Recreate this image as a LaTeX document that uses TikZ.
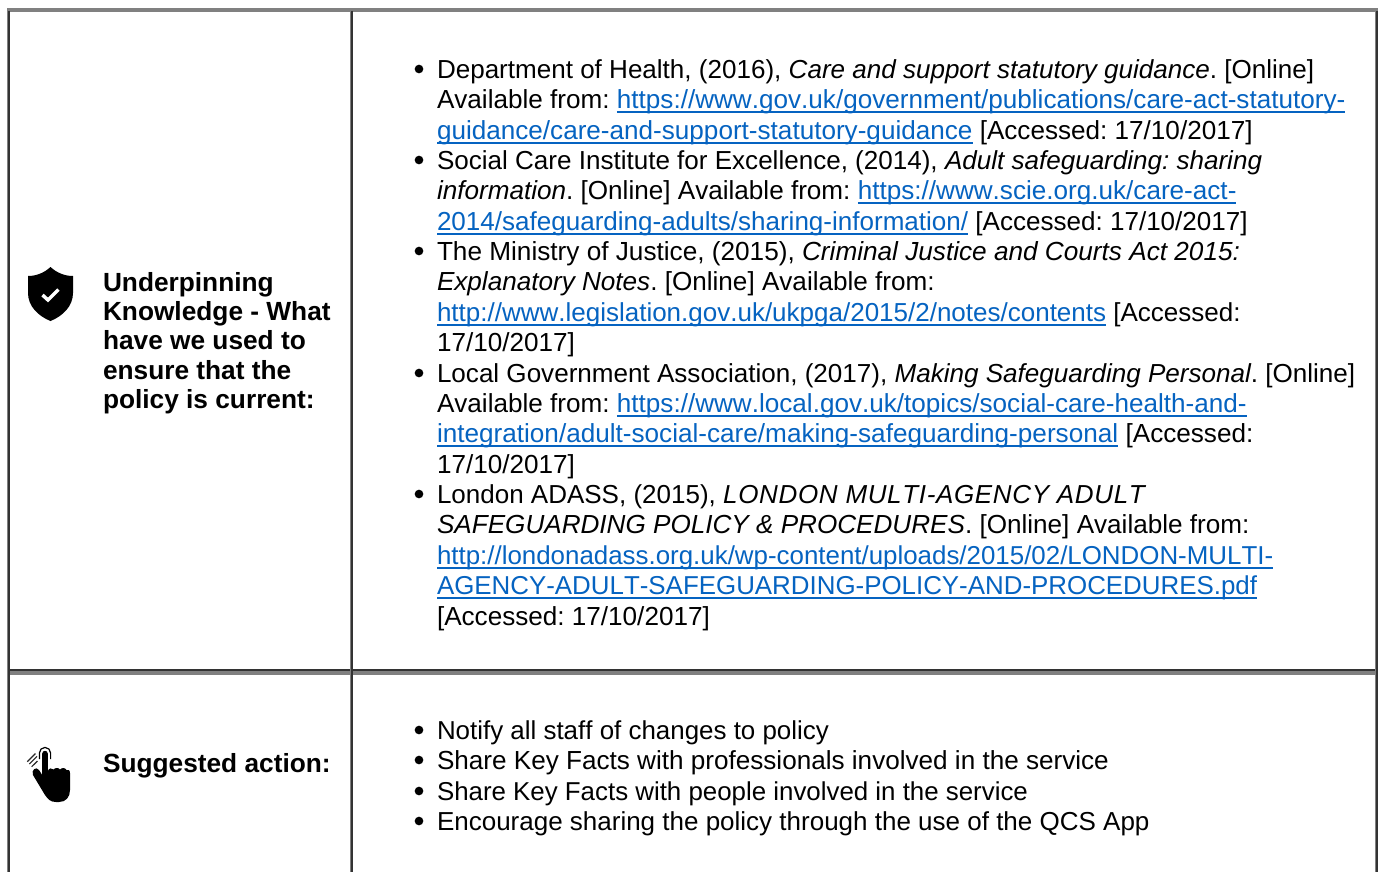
\documentclass[tikz,border=0pt]{standalone}
\usepackage{fontspec}
\setmainfont[Kerning=Off]{Liberation Sans}
\frenchspacing
\definecolor{linkc}{HTML}{0563C1}
\definecolor{gridg}{HTML}{808080}
\definecolor{gridd}{HTML}{333333}
\newcommand\lnk[1]{\textcolor{linkc}{\setbox0\hbox{#1}\rlap{\rule[-3.4pt]{\wd0}{1.3pt}}\box0}}
\tikzset{
 txt/.style={anchor=base west,inner sep=0pt,outer sep=0pt,font=\fontsize{19.58pt}{22pt}\selectfont},
 fs/.style={font=\fontsize{#1pt}{22pt}\selectfont},
 hd/.style={txt,font=\fontsize{19.7pt}{22pt}\selectfont\bfseries},
 bul/.style={circle,fill=black,inner sep=0pt,minimum size=6.5pt},
 gh/.style={line width=3pt,draw=gridg},
 gv/.style={line width=1.6pt,draw=gridg},
 gd/.style={line width=1.5pt,draw=gridd},
}
\begin{document}
\begin{tikzpicture}[x=0.75pt,y=-0.75pt]
\useasboundingbox (0,0) rectangle (1378,872);
\fill[white] (0,0) rectangle (1378,872);
% grid
\draw[gh] (7,9.5) -- (1378,9.5);
\draw[gh] (7,672.5) -- (1378,672.5);
\draw[gd] (7,670) -- (1376,670);
\foreach \xx in {8,351,1376}{
 \draw[gv] (\xx,8) -- (\xx,872);
 \draw[gd] (\xx+0.8,11) -- (\xx+0.8,872);
}
% shield
\fill[black] (50.5,267) .. controls (44,273) and (36,276) .. (28,276)
 -- (28,293) .. controls (28,306) and (38,316) .. (50.5,321)
 .. controls (63,316) and (73,306) .. (73,293) -- (73,276)
 .. controls (65,276) and (57,273) .. (50.5,267) -- cycle;
\draw[white,line width=2.6pt] (42.5,295) -- (48,300) -- (58.5,289.5);
% hand
\draw[black,line width=0.9pt] (39.4,759) -- (39.4,753) arc[start angle=180,end angle=360,x radius=5.6,y radius=5.6] -- (50.6,759);
\draw[black!85,line width=0.85pt] (27.3,761.7) -- (35.5,753.5) (29.3,764) -- (37,756.3) (31.7,766.7) -- (37.5,761);
\fill[black] (42.2,753.5) .. controls (42.2,750) and (47.8,750) .. (47.8,753.5)
 -- (47.8,771) .. controls (49,768) and (52,767.5) .. (53.5,769.5)
 .. controls (55,767.5) and (59,767.5) .. (60,769.5)
 .. controls (61.5,767.5) and (65.5,767.5) .. (66.5,770)
 .. controls (68,769) and (70,770) .. (70,773)
 -- (70,790) .. controls (70,797) and (66,802) .. (59,802)
 -- (56,802) .. controls (50,802) and (48,799) .. (45,795)
 -- (33,775) .. controls (31,770) and (36,766) .. (39,770)
 -- (42.2,775) -- cycle;
% left headers
\node[hd] (h1) at (103,291) {Underpinning};
\node[hd] (h2) at (103,320) {Knowledge - What};
\node[hd] (h3) at (103,349) {have we used to};
\node[hd] (h4) at (103,379) {ensure that the};
\node[hd] (h5) at (103,408) {policy is current:};
\node[hd] (h6) at (103,772) {Suggested action:};
% bullets
\foreach \n/\yy in {b1/69,b2/160,b3/251,b4/373,b5/494,b6/730,b7/760,b8/791,b9/821}{
 \node[bul] (\n) at (419,\yy) {};
}
% reference text
\node[txt,fs=19.53] (l1) at (437,78) {Department of Health, (2016), \textit{Care and support statutory guidance}. [Online]};
\node[txt] (l2) at (437,108) {Available from: \lnk{https://www.gov.uk/government/publications/care-act-statutory-}};
\node[txt] (l3) at (437,139) {\lnk{guidance/care-and-support-statutory-guidance} [Accessed: 17/10/2017]};
\node[txt,fs=19.53] (l4) at (437,169) {Social Care Institute for Excellence, (2014), \textit{Adult safeguarding: sharing}};
\node[txt] (l5) at (437,199) {\textit{information}. [Online] Available from: \lnk{https://www.scie.org.uk/care-act-}};
\node[txt,fs=19.53] (l6) at (437,230) {\lnk{2014/safeguarding-adults/sharing-information/} [Accessed: 17/10/2017]};
\node[txt,fs=19.63] (l7) at (437,260) {The Ministry of Justice, (2015), \textit{Criminal Justice and Courts Act 2015:}};
\node[txt] (l8) at (437,290) {\textit{Explanatory Notes}. [Online] Available from:};
\node[txt,fs=19.5] (l9) at (437,321) {\lnk{http://www.legislation.gov.uk/ukpga/2015/2/notes/contents} [Accessed:};
\node[txt] (l10) at (437,351) {17/10/2017]};
\node[txt,fs=19.54] (l11) at (437,382) {Local Government Association, (2017), \textit{Making Safeguarding Personal}. [Online]};
\node[txt] (l12) at (437,412) {Available from: \lnk{https://www.local.gov.uk/topics/social-care-health-and-}};
\node[txt,fs=19.6] (l13) at (437,442) {\lnk{integration/adult-social-care/making-safeguarding-personal} [Accessed:};
\node[txt] (l14) at (437,473) {17/10/2017]};
\node[txt,fs=19.5] (l15) at (437,503) {London ADASS, (2015), {\itshape\addfontfeature{LetterSpace=2.5}LONDON MULTI-AGENCY ADULT}};
\node[txt] (l16) at (437,533) {\textit{SAFEGUARDING POLICY \& PROCEDURES}. [Online] Available from:};
\node[txt,fs=19.42] (l17) at (437,564) {\lnk{http://londonadass.org.uk/wp-content/uploads/2015/02/LONDON-MULTI-}};
\node[txt,fs=19.42] (l18) at (437,594) {\lnk{AGENCY-ADULT-SAFEGUARDING-POLICY-AND-PROCEDURES.pdf}};
\node[txt] (l19) at (437,625) {[Accessed: 17/10/2017]};
\node[txt,fs=19.44] (a1) at (437,739) {Notify all staff of changes to policy};
\node[txt] (a2) at (437,769) {Share Key Facts with professionals involved in the service};
\node[txt,fs=19.4] (a3) at (437,800) {Share Key Facts with people involved in the service};
\node[txt,fs=19.5] (a4) at (437,830) {Encourage sharing the policy through the use of the QCS App};
\end{tikzpicture}
\end{document}
